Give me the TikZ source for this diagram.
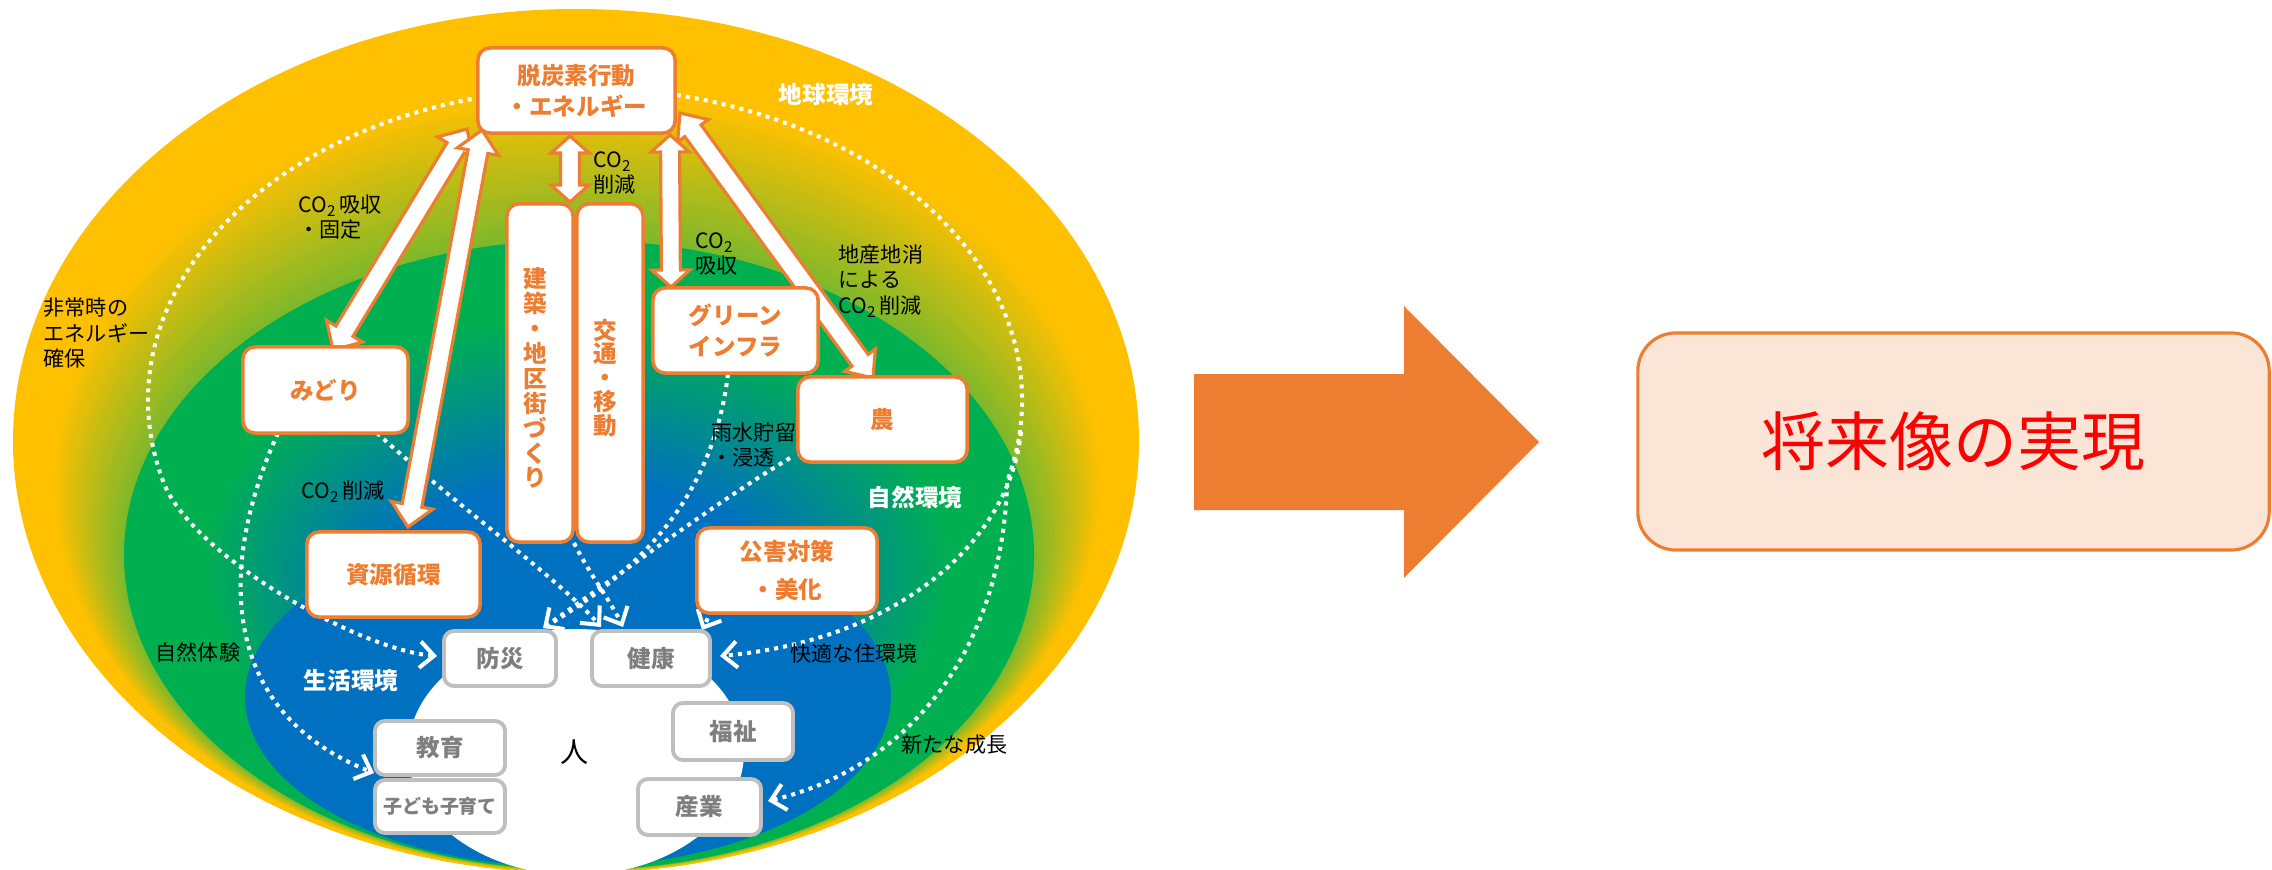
\documentclass[tikz,border=0pt]{standalone}
\usepackage{fontspec}
\setmainfont{Noto Sans CJK JP}
\usetikzlibrary{calc,arrows.meta}
\definecolor{yellow0}{HTML}{FFC000}
\definecolor{green0}{HTML}{00B050}
\definecolor{blue0}{HTML}{0070C0}
\definecolor{ygreen}{HTML}{7AB82C}
\definecolor{orange0}{HTML}{ED7D31}
\definecolor{gray0}{HTML}{7F7F7F}
\definecolor{gray1}{HTML}{BFBFBF}
\definecolor{peach}{HTML}{FBE5D6}
\definecolor{red0}{HTML}{FF0000}
\newcommand{\subtwo}{\raisebox{-0.35ex}{\fontsize{4.3pt}{5pt}\selectfont 2}}
\newcommand{\cotwo}{CO\subtwo}
% double block arrow between two tips: #1,#2 tips, #3 head length, #4 head half width, #5 shaft half width
\newcommand{\dblarr}[5]{%
  \filldraw[blockarrow] (#1)
   -- ($(#1)!#3!(#2)!#4!90:(#2)$) -- ($(#1)!#3!(#2)!#5!90:(#2)$)
   -- ($(#2)!#3!(#1)!#5!-90:(#1)$) -- ($(#2)!#3!(#1)!#4!-90:(#1)$)
   -- (#2)
   -- ($(#2)!#3!(#1)!#4!90:(#1)$) -- ($(#2)!#3!(#1)!#5!90:(#1)$)
   -- ($(#1)!#3!(#2)!#5!-90:(#2)$) -- ($(#1)!#3!(#2)!#4!-90:(#2)$)
   -- cycle;}
\tikzset{
  blockarrow/.style={fill=white, draw=orange0, line width=0.9pt, line join=miter},
  obox/.style={draw=orange0, fill=white, line width=1pt, rounded corners=0.12cm, text=orange0,
    font=\bfseries\fontsize{6.7pt}{8.8pt}\selectfont, align=center, inner sep=0pt},
  gbox/.style={draw=gray1, fill=white, line width=1.1pt, rounded corners=0.1cm, text=gray0,
    font=\bfseries\fontsize{6.7pt}{8pt}\selectfont, align=center, inner sep=0pt},
  vtext/.style={text=orange0, align=center, inner sep=0pt},
  lab/.style={anchor=west, align=left, font=\fontsize{6pt}{7.3pt}\selectfont, inner sep=0pt, text=black},
  wlab/.style={text=white, font=\bfseries\fontsize{6.7pt}{8pt}\selectfont, inner sep=0pt},
  dots/.style={draw=white, line width=1.15pt, dash pattern=on 1.15pt off 1.45pt},
  chev/.style={-{Straight Barb[length=4pt,width=7.5pt]}},
  chevs/.style={{Straight Barb[length=4pt,width=7.5pt]}-{Straight Barb[length=4pt,width=7.5pt]}}
}
\begin{document}
\begin{tikzpicture}[x=0.01cm,y=-0.01cm]
\useasboundingbox (0,0) rectangle (2272,870);
% ---------- outer ring (earth environment)
\foreach \i in {0,...,40}{%
  \pgfmathsetmacro\tp{\i/40}%
  \pgfmathsetmacro\cx{576+3*\tp}%
  \pgfmathsetmacro\cy{441+114*\tp}%
  \pgfmathsetmacro\ra{563-108*\tp}%
  \pgfmathsetmacro\rb{432-117*\tp}%
  \pgfmathtruncatemacro\f{max(0,(\tp-0.35)/0.65)*100}%
  \fill[ygreen!\f!yellow0] (\cx,\cy) ellipse[x radius=\ra, y radius=\rb];
}
% ---------- natural environment
\foreach \i in {0,...,50}{%
  \pgfmathsetmacro\tp{\i/50}%
  \pgfmathsetmacro\cx{579-4*\tp}%
  \pgfmathsetmacro\cy{555+35*\tp}%
  \pgfmathsetmacro\ra{455-255*\tp}%
  \pgfmathsetmacro\rb{315-205*\tp}%
  \pgfmathtruncatemacro\g{max(0,(\tp-0.3)/0.7)*100}%
  \fill[blue0!\g!green0] (\cx,\cy) ellipse[x radius=\ra, y radius=\rb];
}
% ---------- living environment and people
\fill[blue0] (568,697) ellipse[x radius=323, y radius=170];
\fill[white] (576,752) ellipse[x radius=168, y radius=123];

% ---------- coordinates
\coordinate (bosT) at (437,656);
\coordinate (sanT) at (768,801);
\coordinate (kaiS) at (1021,432);
\coordinate (kenT1) at (720,656);
\coordinate (midB1) at (278,433);
\coordinate (kyoT) at (374,773);
\coordinate (midB2) at (377,433);
\coordinate (kenT2) at (601,627);
\coordinate (kenB) at (574,543);
\coordinate (kenT3) at (623,627);
\coordinate (giB) at (728,374);
\coordinate (bosT2) at (543,628);
\coordinate (nouB) at (790,458);
\coordinate (kogB) at (716,602);
\coordinate (kenT4) at (702,630);

% ---------- dotted connectors
\draw[dots,chevs] (bosT) .. controls (360,650) and (190,555) .. (163,481)
   arc[start angle=165, end angle=375, x radius=437, y radius=312]
   .. controls (1002,660) and (900,770) .. (sanT);
\draw[dots,chev] (kaiS) .. controls (1010,540) and (900,640) .. (kenT1);
\draw[dots,chev] (midB1) .. controls (220,560) and (215,710) .. (kyoT);
\draw[dots,chev] (midB2) .. controls (450,500) and (560,580) .. (kenT2);
\draw[dots,chev] (kenB) .. controls (590,575) and (610,600) .. (kenT3);
\draw[dots] (giB) .. controls (715,480) and (660,560) .. (bosT2);
\draw[dots,chev] (nouB) .. controls (720,500) and (640,560) .. (bosT2);
\draw[dots,chev] (kogB) -- (kenT4);

% ---------- block arrows
\coordinate (a1u) at (467,129); \coordinate (a1d) at (333,350);
\coordinate (a2u) at (482,130); \coordinate (a2d) at (408,527);
\coordinate (a3u) at (570,136); \coordinate (a3d) at (570,202);
\coordinate (a4u) at (670,135); \coordinate (a4d) at (671,287);
\coordinate (a5u) at (680,113); \coordinate (a5d) at (873,378);
\dblarr{a1u}{a1d}{0.22cm}{0.21cm}{0.10cm}
\dblarr{a2u}{a2d}{0.22cm}{0.21cm}{0.10cm}
\dblarr{a3u}{a3d}{0.17cm}{0.19cm}{0.095cm}
\dblarr{a5u}{a5d}{0.22cm}{0.19cm}{0.10cm}
\dblarr{a4u}{a4d}{0.17cm}{0.19cm}{0.095cm}

% ---------- orange boxes
\node[obox, minimum width=1.97cm, minimum height=0.85cm] (top) at (576.5,90.5) {脱炭素行動\\・エネルギー};
\node[obox, minimum width=0.66cm, minimum height=3.38cm] (ken) at (540,373) {};
\node[obox, minimum width=0.66cm, minimum height=3.38cm] (kou) at (610,373) {};
\node[vtext, font=\bfseries\fontsize{6.7pt}{7.1pt}\selectfont] (kent) at (535,378) {建\\築\\・\\地\\区\\街\\づ\\く\\り};
\node[vtext, font=\bfseries\fontsize{6.7pt}{6.8pt}\selectfont] (kout) at (605,378) {交\\通\\・\\移\\動};
\node[obox, minimum width=1.65cm, minimum height=0.86cm] (mid) at (325.5,390) {みどり};
\node[obox, minimum width=1.73cm, minimum height=0.85cm] (shi) at (393.5,574.5) {資源循環};
\node[obox, minimum width=1.65cm, minimum height=0.85cm] (gi) at (735.5,330.5) {グリーン\\インフラ};
\node[obox, minimum width=1.69cm, minimum height=0.85cm] (nou) at (882.5,419.5) {農};
\node[obox, minimum width=1.80cm, minimum height=0.85cm, font=\bfseries\fontsize{6.7pt}{10.8pt}\selectfont] (kog) at (787,570.5) {公害対策\\・美化};

% ---------- grey boxes
\node[gbox, minimum width=1.12cm, minimum height=0.55cm] (bos) at (500,658.5) {防災};
\node[gbox, minimum width=1.18cm, minimum height=0.55cm] (kenk) at (651,658.5) {健康};
\node[gbox, minimum width=1.20cm, minimum height=0.57cm] (fuk) at (733,731.5) {福祉};
\node[gbox, minimum width=1.30cm, minimum height=0.54cm] (kyo) at (440,748) {教育};
\node[gbox, minimum width=1.30cm, minimum height=0.53cm, font=\bfseries\fontsize{5.4pt}{6pt}\selectfont] (kod) at (440,806.5) {子ども子育て};
\node[gbox, minimum width=1.23cm, minimum height=0.56cm] (san) at (699.5,807) {産業};
\node[font=\fontsize{8pt}{9pt}\selectfont, inner sep=0pt] (hito) at (575,752) {人};

% ---------- labels
\node[lab] (l1) at (43,333) {非常時の\\エネルギー\\確保};
\node[lab] (l2) at (298,217) {\cotwo\,吸収\\・固定};
\node[lab] (l3) at (593,173) {\cotwo\\削減};
\node[lab] (l4) at (695,254) {\cotwo\\吸収};
\node[lab] (l5) at (838,281) {地産地消\\による\\\cotwo\,削減};
\node[lab] (l6) at (301,492) {\cotwo\,削減};
\node[lab] (l7) at (711,445) {雨水貯留\\・浸透};
\node[lab] (l8) at (155,652) {自然体験};
\node[lab] (l9) at (790,653) {快適な住環境};
\node[lab] (l10) at (901,745) {新たな成長};
\node[wlab] (w1) at (826,95) {地球環境};
\node[wlab] (w2) at (915,497) {自然環境};
\node[wlab] (w3) at (351,681) {生活環境};

% ---------- right part
\fill[orange0] (1194,374) -- (1404,374) -- (1404,306) -- (1539,442) -- (1404,578) -- (1404,510) -- (1194,510) -- cycle;
\node[draw=orange0, fill=peach, line width=0.9pt, rounded corners=0.38cm, minimum width=6.31cm, minimum height=2.17cm,
  text=red0, font=\fontsize{18.2pt}{20pt}\selectfont, inner sep=0pt] (fut) at (1953.5,441.5) {将来像の実現};
\end{tikzpicture}
\end{document}
